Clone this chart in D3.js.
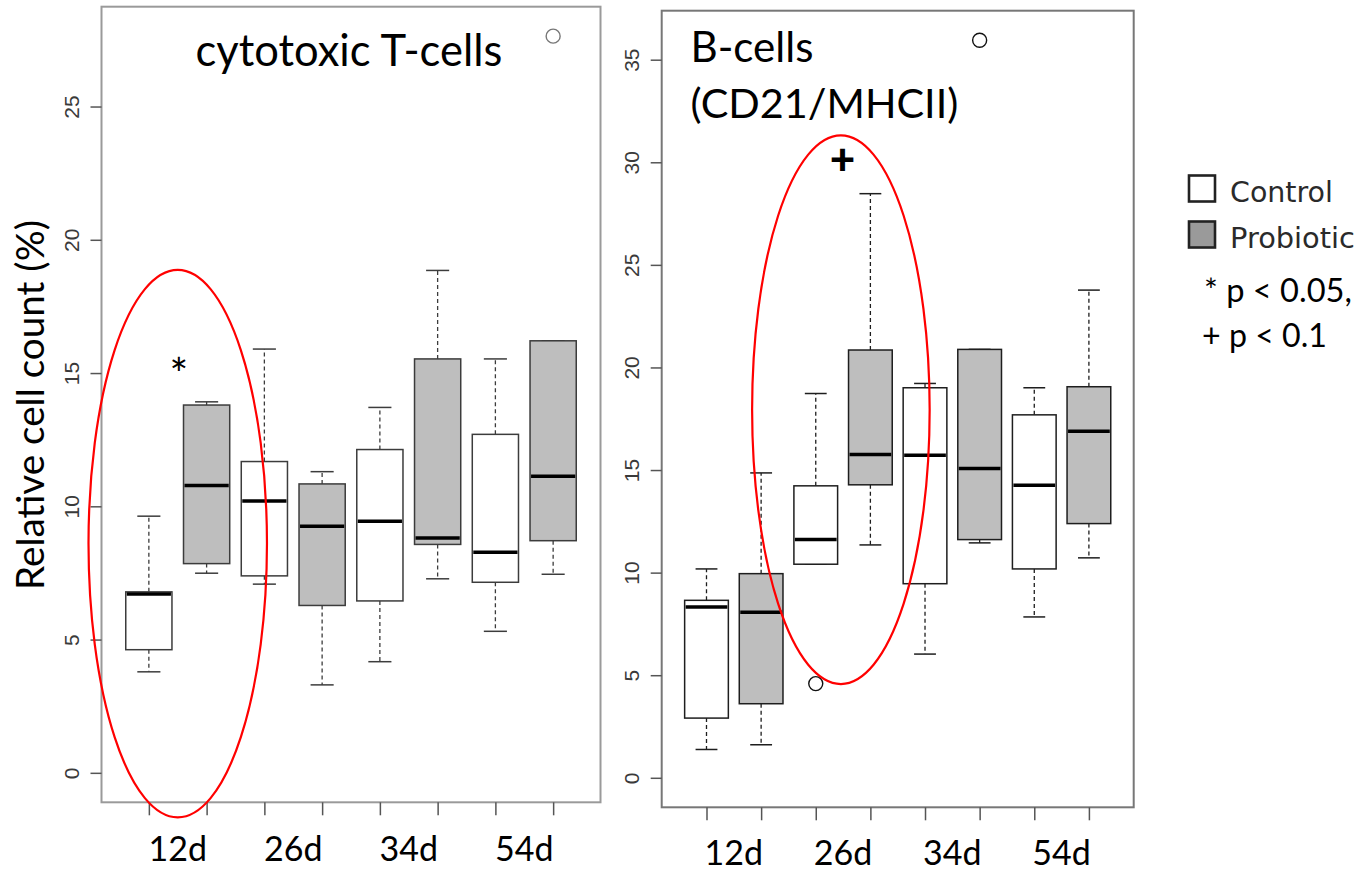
<!DOCTYPE html>
<html>
<head>
<meta charset="utf-8">
<script src="https://cdn.jsdelivr.net/npm/d3@7"></script>
<style>
  html, body { margin: 0; padding: 0; background: #fff; }
  svg { display: block; }
</style>
</head>
<body>
<svg id="chart" width="1368" height="871"></svg>
<script>
// ---- data -------------------------------------------------------------
const timepoints = ["12d", "26d", "34d", "54d"];
const groups = ["Control", "Probiotic"];
// boxes alternate Control / Probiotic for each time point
const boxGroup = ["Control", "Probiotic", "Control", "Probiotic", "Control", "Probiotic", "Control", "Probiotic"];

// cytotoxic T-cells: lower whisker, Q1, median, Q3, upper whisker
const tLow    = [3.79, 7.49, 7.08, 3.30, 4.17, 7.28, 5.31, 7.45];
const tQ1     = [4.62, 7.85, 7.39, 6.28, 6.45, 8.57, 7.15, 8.71];
const tMedian = [6.71, 10.78, 10.20, 9.25, 9.44, 8.81, 8.28, 11.13];
const tQ3     = [6.79, 13.80, 11.68, 10.84, 12.13, 15.53, 12.70, 16.21];
const tHigh   = [9.63, 13.92, 15.90, 11.30, 13.71, 18.85, 15.53, 16.21];
const tOutBox = [8];
const tOutVal = [27.64];
const tTicks  = [0, 5, 10, 15, 20, 25];

// B-cells (CD21/MHCII)
const bLow    = [1.38, 1.61, 10.41, 11.35, 6.03, 11.45, 7.84, 10.72];
const bQ1     = [2.91, 3.61, 10.41, 14.28, 9.46, 11.61, 10.18, 12.39];
const bMedian = [8.33, 8.07, 11.61, 15.76, 15.72, 15.07, 14.26, 16.89];
const bQ3     = [8.65, 9.95, 14.23, 20.85, 19.01, 20.88, 17.69, 19.06];
const bHigh   = [10.18, 14.86, 18.73, 28.47, 19.22, 20.88, 19.01, 23.77];
const bOutBox = [3, 6];
const bOutVal = [4.59, 35.95];
const bTicks  = [0, 5, 10, 15, 20, 25, 30, 35];

// significance marks and highlighting ellipses, in data units
const tMarks = [{ pos: 1.52, value: 15.0, symbol: "*" }];
const bMarks = [{ pos: 3.49, value: 30.2, symbol: "+" }];
const tEllipse = [{ pos: 1.50, value: 8.6, rx: 1.545, ry: 10.27 }];
const bEllipse = [{ pos: 3.46, value: 17.94, rx: 1.625, ry: 13.37 }];

// ---- drawing ----------------------------------------------------------
const svg = d3.select("#chart");
const fill = { Control: "#ffffff", Probiotic: "#bebebe" };
const TITLE_FONT = "Lato, 'Open Sans', sans-serif";

function fitWidth(sel, w) {
  const cur = sel.node().getComputedTextLength();
  const fs = parseFloat(sel.attr("font-size"));
  sel.attr("font-size", fs * w / cur);
  return sel;
}

function panel(cfg) {
  const n = cfg.low.length;
  const maxVal = d3.max([...cfg.high, ...cfg.outVal]);
  // R-style 4% axis extension around [0, max] and [0.5, n + 0.5]
  const y = d3.scaleLinear()
    .domain([0 - 0.04 * maxVal, maxVal * 1.04])
    .range([cfg.bottom, cfg.top]);
  const x = d3.scaleLinear()
    .domain([0.5 - 0.04 * n, n + 0.5 + 0.04 * n])
    .range([cfg.left, cfg.right]);
  const unit = x(1) - x(0);
  const g = svg.append("g");

  // boxes
  const idx = d3.range(n);
  const bw = 0.8 * unit, cw = 0.4 * unit;
  const boxes = g.selectAll("g.box").data(idx).join("g").attr("class", "box");
  // whiskers
  boxes.append("line")
    .attr("x1", i => x(i + 1)).attr("x2", i => x(i + 1))
    .attr("y1", i => y(cfg.q3[i])).attr("y2", i => y(cfg.high[i]))
    .attr("stroke", cfg.stroke).attr("stroke-width", 1.3).attr("stroke-dasharray", "4,3");
  boxes.append("line")
    .attr("x1", i => x(i + 1)).attr("x2", i => x(i + 1))
    .attr("y1", i => y(cfg.q1[i])).attr("y2", i => y(cfg.low[i]))
    .attr("stroke", cfg.stroke).attr("stroke-width", 1.3).attr("stroke-dasharray", "4,3");
  // staples
  boxes.append("line")
    .attr("x1", i => x(i + 1) - cw / 2).attr("x2", i => x(i + 1) + cw / 2)
    .attr("y1", i => y(cfg.high[i])).attr("y2", i => y(cfg.high[i]))
    .attr("stroke", cfg.stroke).attr("stroke-width", 1.5);
  boxes.append("line")
    .attr("x1", i => x(i + 1) - cw / 2).attr("x2", i => x(i + 1) + cw / 2)
    .attr("y1", i => y(cfg.low[i])).attr("y2", i => y(cfg.low[i]))
    .attr("stroke", cfg.stroke).attr("stroke-width", 1.5);
  // box body
  boxes.append("rect")
    .attr("x", i => x(i + 1) - bw / 2).attr("width", bw)
    .attr("y", i => y(cfg.q3[i])).attr("height", i => y(cfg.q1[i]) - y(cfg.q3[i]))
    .attr("fill", i => fill[boxGroup[i]])
    .attr("stroke", cfg.stroke).attr("stroke-width", 1.5);
  // median
  boxes.append("line")
    .attr("x1", i => x(i + 1) - bw / 2 + 1).attr("x2", i => x(i + 1) + bw / 2 - 1)
    .attr("y1", i => y(cfg.median[i])).attr("y2", i => y(cfg.median[i]))
    .attr("stroke", "#000").attr("stroke-width", 3.5);

  // outliers
  g.selectAll("circle.out").data(cfg.outBox.map((b, k) => ({ b, v: cfg.outVal[k] })))
    .join("circle").attr("class", "out")
    .attr("cx", d => x(d.b)).attr("cy", d => y(d.v)).attr("r", 7)
    .attr("fill", "none").attr("stroke", cfg.outStroke).attr("stroke-width", 1.4);

  // frame
  g.append("rect")
    .attr("x", cfg.left).attr("y", cfg.top)
    .attr("width", cfg.right - cfg.left).attr("height", cfg.bottom - cfg.top)
    .attr("fill", "none").attr("stroke", cfg.frame).attr("stroke-width", 2);

  // y axis
  const ya = g.append("g").attr("transform", `translate(${cfg.left},0)`)
    .call(d3.axisLeft(y).tickValues(cfg.ticks).tickSize(11).tickFormat(d3.format("d")));
  ya.select(".domain").remove();
  ya.selectAll(".tick line").attr("stroke", "#555").attr("stroke-width", 1.5);
  ya.selectAll(".tick text")
    .attr("x", null).attr("dy", null)
    .attr("transform", "translate(-30,0) rotate(-90)")
    .attr("text-anchor", "middle").attr("dy", "0.35em")
    .attr("font-family", "'Liberation Sans', Arial, sans-serif")
    .attr("font-size", 21).attr("fill", "#3a3a3a");

  // x axis ticks
  const xa = g.append("g").attr("transform", `translate(0,${cfg.bottom})`)
    .call(d3.axisBottom(x).tickValues(d3.range(1, n + 1)).tickSize(13).tickFormat(""));
  xa.select(".domain").remove();
  xa.selectAll(".tick line").attr("stroke", "#555").attr("stroke-width", 1.5);

  // time point labels centred between each pair of boxes
  g.selectAll("text.tp").data(timepoints).join("text").attr("class", "tp")
    .attr("x", (d, k) => x(2 * k + 1.5)).attr("y", cfg.labelBaseline)
    .attr("text-anchor", "middle")
    .attr("font-family", TITLE_FONT).attr("font-size", 34).attr("fill", "#000")
    .text(d => d);

  // highlight ellipses
  g.selectAll("ellipse.hl").data(cfg.ellipse).join("ellipse").attr("class", "hl")
    .attr("cx", d => x(d.pos)).attr("cy", d => y(d.value))
    .attr("rx", d => d.rx * unit).attr("ry", d => (y(0) - y(d.ry)))
    .attr("fill", "none").attr("stroke", "#ff0000").attr("stroke-width", 2.2);

  // significance marks
  g.selectAll("text.sig").data(cfg.marks).join("text").attr("class", "sig")
    .attr("x", d => x(d.pos)).attr("y", d => y(d.value))
    .attr("text-anchor", "middle").attr("dominant-baseline", "central")
    .attr("font-family", TITLE_FONT).attr("font-weight", d => d.symbol === "+" ? 900 : 400)
    .attr("font-size", 44).attr("fill", "#000")
    .text(d => d.symbol);

  return { g, x, y };
}

const left = panel({
  low: tLow, q1: tQ1, median: tMedian, q3: tQ3, high: tHigh,
  outBox: tOutBox, outVal: tOutVal, ticks: tTicks,
  left: 101.5, right: 600.5, top: 6.7, bottom: 802.3,
  stroke: "#3c3c3c", outStroke: "#777", frame: "#9a9a9a",
  labelBaseline: 861, marks: tMarks, ellipse: tEllipse
});

const right = panel({
  low: bLow, q1: bQ1, median: bMedian, q3: bQ3, high: bHigh,
  outBox: bOutBox, outVal: bOutVal, ticks: bTicks,
  left: 661.7, right: 1133.7, top: 10.7, bottom: 807.3,
  stroke: "#1e1e1e", outStroke: "#111", frame: "#777",
  labelBaseline: 865, marks: bMarks, ellipse: bEllipse
});

// panel titles
fitWidth(left.g.append("text").attr("x", 195.5).attr("y", 66)
  .attr("font-family", TITLE_FONT).attr("font-size", 44).text("cytotoxic T-cells"), 307);
fitWidth(right.g.append("text").attr("x", 690.5).attr("y", 62)
  .attr("font-family", TITLE_FONT).attr("font-size", 44).text("B-cells"), 123);
fitWidth(right.g.append("text").attr("x", 690.5).attr("y", 118)
  .attr("font-family", TITLE_FONT).attr("font-size", 44).text("(CD21/MHCII)"), 268);

// shared y axis title
fitWidth(svg.append("text")
  .attr("transform", "translate(43.5,405) rotate(-90)")
  .attr("text-anchor", "middle")
  .attr("font-family", TITLE_FONT).attr("font-size", 40)
  .text("Relative cell count (%)"), 370);

// legend
const legend = svg.append("g").attr("class", "legend");
const legendRows = groups.map((gname, k) => ({ name: gname, k }));
const legendFill = { Control: "#ffffff", Probiotic: "#9a9a9a" };
const legendTop = [175.5, 221.5];
const legendWidths = { Control: 103, Probiotic: 125 };
legendRows.forEach(r => {
  legend.append("rect")
    .attr("x", 1189).attr("y", legendTop[r.k]).attr("width", 26).attr("height", 26)
    .attr("fill", legendFill[r.name]).attr("stroke", "#222").attr("stroke-width", 2.6);
  fitWidth(legend.append("text")
    .attr("x", 1230).attr("y", legendTop[r.k] + 26)
    .attr("font-family", "'DejaVu Sans', sans-serif").attr("font-size", 28)
    .attr("fill", "#2a2a2a").text(r.name), legendWidths[r.name]);
});
fitWidth(legend.append("text").attr("x", 1204).attr("y", 302)
  .attr("font-family", TITLE_FONT).attr("font-size", 32).text("* p < 0.05,"), 148);
fitWidth(legend.append("text").attr("x", 1202).attr("y", 347)
  .attr("font-family", TITLE_FONT).attr("font-size", 32).text("+ p < 0.1"), 125);
</script>
</body>
</html>
